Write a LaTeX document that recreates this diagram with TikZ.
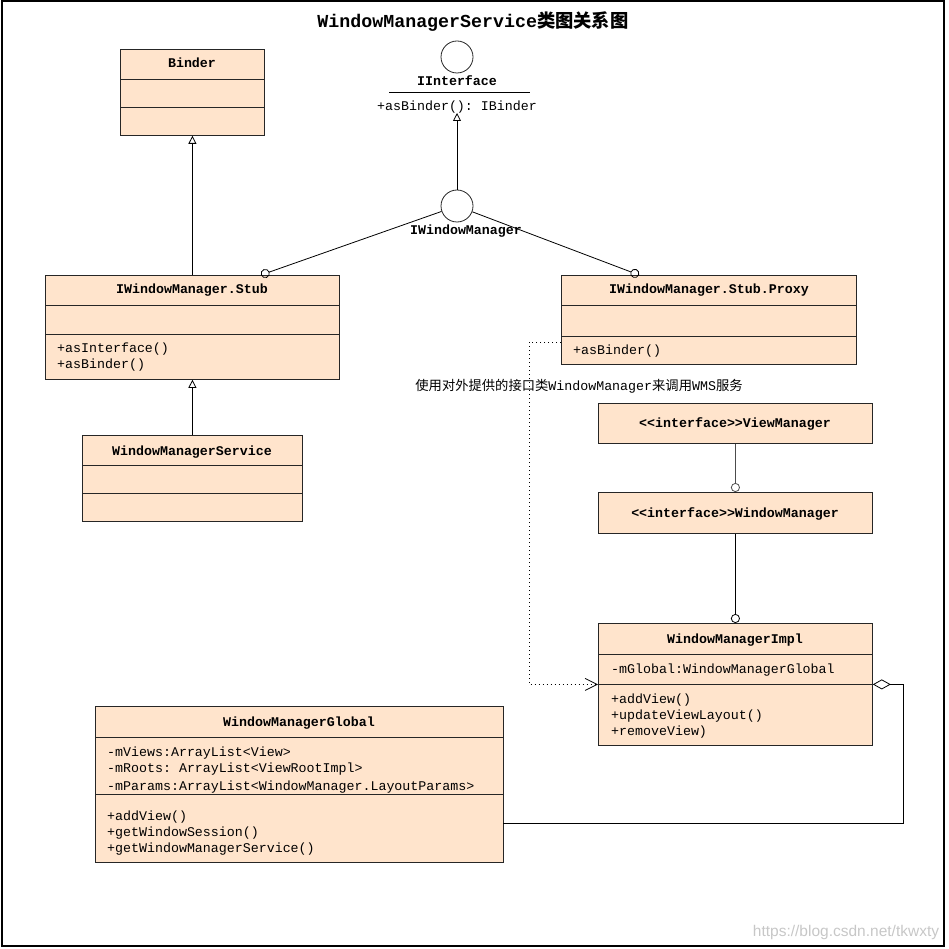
\documentclass[tikz,border=0pt]{standalone}
\usepackage{fontspec}
\setmonofont{Liberation Mono}
\setsansfont{Liberation Sans}
\newfontfamily\cjk{Noto Sans CJK SC}
\usetikzlibrary{arrows.meta}
\definecolor{peach}{RGB}{255,228,204}
\tikzset{
  cls/.style={draw=black!85, fill=peach, line width=0.8pt, inner sep=0pt, anchor=north west},
  ttl/.style={font=\ttfamily\bfseries\fontsize{13.3}{16}\selectfont, inner sep=0pt, text height=8pt, text depth=0pt},
  mem/.style={font=\ttfamily\fontsize{13.3}{16}\selectfont, inner sep=0pt, text height=8pt, text depth=0pt, anchor=west},
  iface/.style={draw=black!85, fill=white, circle, minimum size=32pt, inner sep=0pt, line width=0.8pt},
  conn/.style={line width=0.8pt},
  lolly/.style={conn, -{Circle[open, length=9pt]}},
  inherit/.style={conn, -{Triangle[open, length=8pt, width=8pt]}}
}
\begin{document}
\begin{tikzpicture}[x=1pt, y=-1pt]
  \useasboundingbox (0,0) rectangle (948,949);
  \draw[line width=1.2pt] (2,1) rectangle (944,946);

  \node[font=\ttfamily\bfseries\fontsize{18.3}{20}\selectfont, inner sep=0pt] (title) at (473,22)
    {WindowManagerService{\cjk 类图关系图}};

  % Klassen
  \node[cls, minimum width=144pt, minimum height=86pt] (binder) at (120,49) {};
  \node[cls, minimum width=294pt, minimum height=104pt] (stub) at (45,275) {};
  \node[cls, minimum width=220pt, minimum height=86pt] (wms) at (82,435) {};
  \node[cls, minimum width=295pt, minimum height=89pt] (proxy) at (561,275) {};
  \node[cls, minimum width=274pt, minimum height=40pt] (vm) at (598,403) {};
  \node[cls, minimum width=274pt, minimum height=41pt] (wm) at (598,492) {};
  \node[cls, minimum width=274pt, minimum height=122pt] (impl) at (598,623) {};
  \node[cls, minimum width=408pt, minimum height=156pt] (global) at (95,706) {};

  \foreach \n/\a/\b in {binder/30/58, stub/30/59, wms/30/58, proxy/30/61, impl/31/61, global/31/88} {
    \draw[line width=0.8pt, black!85] ([yshift=-\a pt]\n.north west) -- ([yshift=-\a pt]\n.north east);
    \draw[line width=0.8pt, black!85] ([yshift=-\b pt]\n.north west) -- ([yshift=-\b pt]\n.north east);
  }

  \node[ttl] (binder-t) at (192,64) {Binder};
  \node[ttl] (stub-t) at (192,290) {IWindowManager.Stub};
  \node[ttl] (wms-t) at (192,451) {WindowManagerService};
  \node[ttl] (proxy-t) at (709,290) {IWindowManager.Stub.Proxy};
  \node[ttl] (vm-t) at (735,423) {<<interface>>ViewManager};
  \node[ttl] (wm-t) at (735,513) {<<interface>>WindowManager};
  \node[ttl] (impl-t) at (735,639) {WindowManagerImpl};
  \node[ttl] (global-t) at (299,722) {WindowManagerGlobal};

  \foreach \t/\y [count=\i] in {+asInterface()/348, +asBinder()/364}
    \node[mem] (stub-m\i) at (57,\y) {\t};
  \node[mem] (proxy-m1) at (573,350) {+asBinder()};
  \node[mem] (impl-f1) at (611,669) {-mGlobal:WindowManagerGlobal};
  \foreach \t/\y [count=\i] in {+addView()/699, +updateViewLayout()/715, +removeView)/731}
    \node[mem] (impl-m\i) at (611,\y) {\t};
  \foreach \t/\y [count=\i] in {-mViews:ArrayList<View>/752, -mRoots: ArrayList<ViewRootImpl>/768,
      -mParams:ArrayList<WindowManager.LayoutParams>/786}
    \node[mem] (global-f\i) at (107,\y) {\t};
  \foreach \t/\y [count=\i] in {+addView()/816, +getWindowSession()/832, +getWindowManagerService()/848}
    \node[mem] (global-m\i) at (107,\y) {\t};

  % Interfaces
  \node[iface] (ii) at (457,57) {};
  \node[ttl] (ii-t) at (457,82) {IInterface};
  \draw[line width=0.8pt] (389,92) -- (530,92);
  \node[mem, anchor=center] (ii-m) at (457,107) {+asBinder(): IBinder};
  \coordinate (iitip) at (457,113);

  \node[iface] (iwm) at (457,206) {};
  \node[ttl] (iwm-t) at (466,231) {IWindowManager};
  \coordinate (stubtip) at (261,275);
  \coordinate (proxytip) at (639,275);

  % Verbindungen
  \draw[inherit] (iwm) -- (iitip);
  \draw[lolly] (iwm) -- (stubtip);
  \draw[lolly] (iwm) -- (proxytip);
  \draw[inherit] (stub.north) -- (binder.south);
  \draw[inherit] (wms.north) -- (stub.south);
  \draw[lolly, black!70] (vm.south) -- (wm.north);
  \draw[lolly] (wm.south) -- (impl.north);

  \coordinate (dot1) at (561,342);
  \coordinate (dotc) at (529,342);
  \draw[conn, dash pattern=on 1pt off 3pt, -{Straight Barb[length=12pt, width=12pt]}]
    (dot1) -- (dotc) |- (impl.west);
  \node[font=\ttfamily\fontsize{13.3}{16}\selectfont, inner sep=0pt] (note) at (579,386)
    {{\cjk 使用对外提供的接口类}WindowManager{\cjk 来调用}WMS{\cjk 服务}};

  \coordinate (aggc) at (903,823);
  \coordinate (gend) at (503,823);
  \draw[conn, {Diamond[open, length=18pt, width=10pt]}-] (impl.east) -| (aggc) -- (gend);

  \node[font=\sffamily\fontsize{15.5}{18}\selectfont, text=black!22, inner sep=0pt] (wmark) at (846,932)
    {https://blog.csdn.net/tkwxty};
\end{tikzpicture}
\end{document}
